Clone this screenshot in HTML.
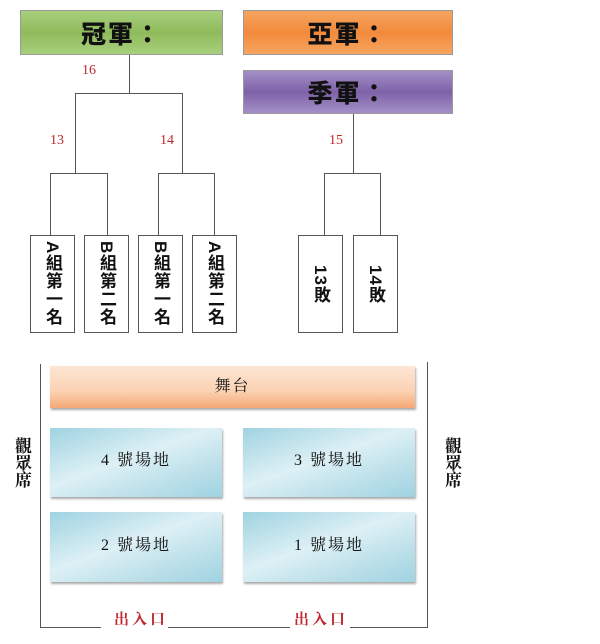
<!DOCTYPE html>
<html><head><meta charset="utf-8"><style>
body{margin:0;width:600px;height:644px;background:#fff;position:relative;overflow:hidden;font-family:"Liberation Sans","Noto Sans CJK TC",sans-serif}
.a{position:absolute}
.h{position:absolute;display:flex;align-items:center;justify-content:center;font-weight:900;font-size:25px;color:#111;border:1px solid #999;box-sizing:border-box;letter-spacing:2px}
.l{position:absolute;background:#555}
.v{position:absolute;border:1px solid #555;box-sizing:border-box;background:#fff;writing-mode:vertical-rl;display:flex;align-items:center;justify-content:center;font-weight:bold;font-size:17px;color:#111;text-orientation:mixed;letter-spacing:1px}
.n{position:absolute;color:#c0282d;font-family:"Liberation Serif",serif;font-size:14px}
.c{position:absolute;display:flex;align-items:center;justify-content:center;box-sizing:border-box;padding-bottom:8px;font-family:"Liberation Serif","Noto Serif CJK SC",serif;font-size:16px;color:#111;background:linear-gradient(160deg,#9fd3e1 0%,#ddf0f5 45%,#c0e2eb 70%,#9fd3e1 100%);box-shadow:1px 2px 2px #aaa;letter-spacing:2px}
.s{font-family:"Liberation Serif","Noto Serif CJK SC",serif;font-size:17px;color:#111;writing-mode:vertical-rl;font-weight:bold}
</style></head><body>
<div class="h" style="left:20px;top:10px;width:203px;height:45px;background:linear-gradient(#a8cf7d,#8fbb5c,#a8cf7d)">冠軍：</div>
<div class="h" style="left:243px;top:10px;width:210px;height:45px;background:linear-gradient(#f6a560,#f28a3c,#f6a560)">亞軍：</div>
<div class="h" style="left:243px;top:70px;width:210px;height:44px;background:linear-gradient(#a58fc6,#7d62a8,#a58fc6)">季軍：</div>
<div class="l" style="left:129px;top:55px;width:1px;height:38px"></div>
<div class="l" style="left:75px;top:93px;width:108px;height:1px"></div>
<div class="l" style="left:75px;top:93px;width:1px;height:80px"></div>
<div class="l" style="left:182px;top:93px;width:1px;height:80px"></div>
<div class="l" style="left:50px;top:173px;width:58px;height:1px"></div>
<div class="l" style="left:158px;top:173px;width:57px;height:1px"></div>
<div class="l" style="left:50px;top:173px;width:1px;height:62px"></div>
<div class="l" style="left:107px;top:173px;width:1px;height:62px"></div>
<div class="l" style="left:158px;top:173px;width:1px;height:62px"></div>
<div class="l" style="left:214px;top:173px;width:1px;height:62px"></div>
<div class="l" style="left:353px;top:114px;width:1px;height:59px"></div>
<div class="l" style="left:324px;top:173px;width:57px;height:1px"></div>
<div class="l" style="left:324px;top:173px;width:1px;height:62px"></div>
<div class="l" style="left:380px;top:173px;width:1px;height:62px"></div>
<div class="n" style="left:82px;top:63px">16</div>
<div class="n" style="left:50px;top:133px">13</div>
<div class="n" style="left:160px;top:133px">14</div>
<div class="n" style="left:329px;top:133px">15</div>
<div class="v" style="left:30px;top:235px;width:45px;height:98px">A組第一名</div>
<div class="v" style="left:84px;top:235px;width:45px;height:98px">B組第二名</div>
<div class="v" style="left:138px;top:235px;width:45px;height:98px">B組第一名</div>
<div class="v" style="left:192px;top:235px;width:45px;height:98px">A組第二名</div>
<div class="v" style="left:298px;top:235px;width:45px;height:98px">13敗</div>
<div class="v" style="left:353px;top:235px;width:45px;height:98px">14敗</div>
<div class="l" style="left:40px;top:364px;width:1px;height:264px"></div>
<div class="l" style="left:427px;top:362px;width:1px;height:266px"></div>
<div class="l" style="left:40px;top:627px;width:61px;height:1px"></div>
<div class="l" style="left:168px;top:627px;width:122px;height:1px"></div>
<div class="l" style="left:350px;top:627px;width:78px;height:1px"></div>
<div class="a" style="left:114px;top:608px;color:#c0282d;font-weight:bold;font-size:15px;letter-spacing:3px;font-family:'Liberation Serif','Noto Serif CJK SC',serif">出入口</div>
<div class="a" style="left:294px;top:608px;color:#c0282d;font-weight:bold;font-size:15px;letter-spacing:3px;font-family:'Liberation Serif','Noto Serif CJK SC',serif">出入口</div>
<div class="c" style="left:50px;top:366px;width:365px;height:42px;padding-bottom:6px;background:linear-gradient(#fde6d4,#fbd2b3 60%,#f5a874)">舞台</div>
<div class="c" style="left:50px;top:428px;width:172px;height:69px">4 號場地</div>
<div class="c" style="left:243px;top:428px;width:172px;height:69px">3 號場地</div>
<div class="c" style="left:50px;top:512px;width:172px;height:70px">2 號場地</div>
<div class="c" style="left:243px;top:512px;width:172px;height:70px">1 號場地</div>
<div class="a s" style="left:9px;top:437px">觀眾席</div>
<div class="a s" style="left:439px;top:437px">觀眾席</div>
</body></html>
